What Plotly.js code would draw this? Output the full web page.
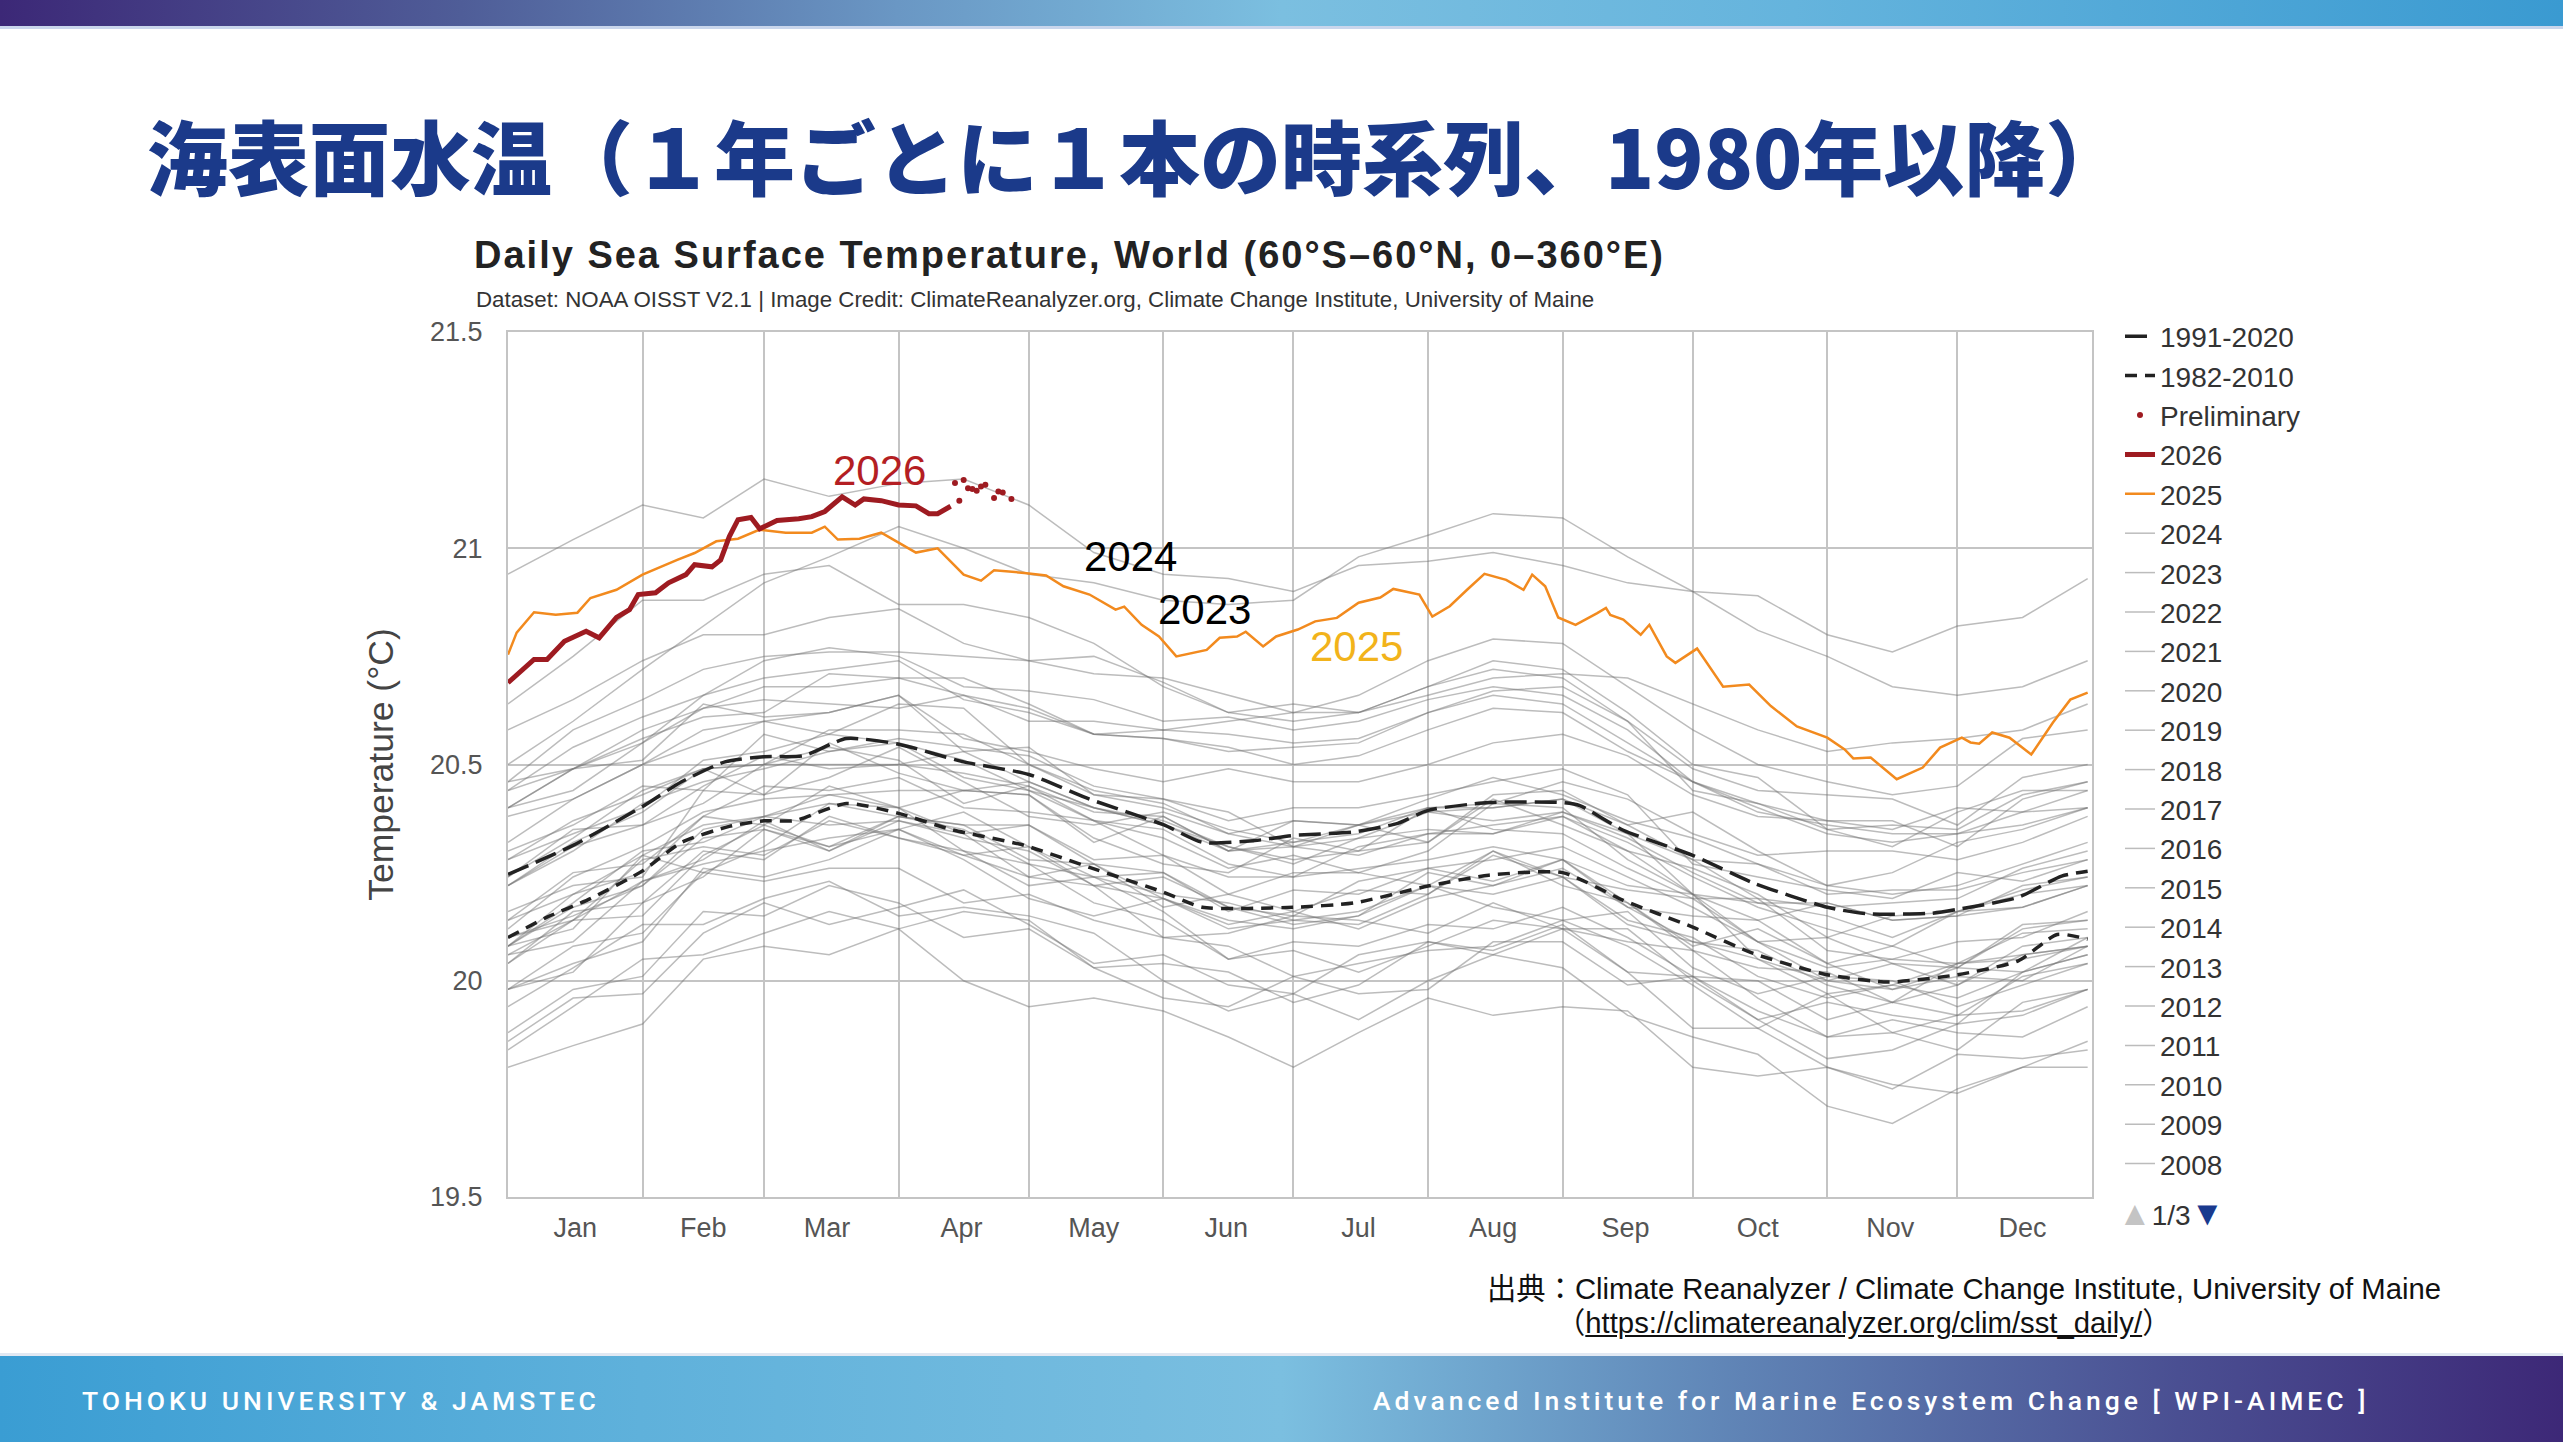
<!DOCTYPE html>
<html>
<head>
<meta charset="utf-8">
<script src="https://cdn.plot.ly/plotly-3.0.1.min.js"></script>
<style>
html,body{margin:0;padding:0;width:2563px;height:1442px;overflow:hidden;background:#fff;}
#chart{position:absolute;left:0;top:0;width:2563px;height:1442px;}
#topbar{position:absolute;left:0;top:0;width:2563px;height:26px;background:linear-gradient(90deg,#3c2877 0%,#4f5d98 18%,#6a97c4 35%,#7bbfe0 50%,#65b4dd 70%,#3a9ad1 100%);border-bottom:3px solid #c9d6ec;z-index:5;}
#jtitle{position:absolute;left:147px;top:109px;font-family:'Noto Sans CJK JP',sans-serif;font-weight:900;font-size:81px;line-height:90px;color:#1b3a8a;white-space:nowrap;z-index:5;}
.src{position:absolute;font-family:'Liberation Sans','Noto Sans CJK JP',sans-serif;font-size:29.3px;line-height:34px;color:#111;white-space:nowrap;z-index:5;}
#footer{position:absolute;left:0;top:1353px;width:2563px;height:89px;background:linear-gradient(90deg,#3a9dd3 0%,#5fb1db 25%,#7bbfe0 50%,#5f83b5 68%,#4a4f92 85%,#3d2877 100%);border-top:3px solid #e1e8f2;z-index:5;}
.ft{position:absolute;top:30px;font-family:Roboto,'DejaVu Sans',sans-serif;font-weight:500;font-size:26.5px;line-height:30px;letter-spacing:4px;color:#fff;white-space:nowrap;}
.gtitle{letter-spacing:2px;}
</style>
</head>
<body>
<div id="topbar"></div>
<div id="jtitle">海表面水温（１年ごとに１本の時系列、1980年以降）</div>
<div id="chart"></div>
<div class="src" style="left:1487px;top:1272px;">出典：Climate Reanalyzer / Climate Change Institute, University of Maine</div>
<div class="src" style="left:1556px;top:1306px;">（<u>https://climatereanalyzer.org/clim/sst_daily/</u>）</div>
<div id="footer">
  <span class="ft" style="left:82px;">TOHOKU UNIVERSITY &amp; JAMSTEC</span>
  <span class="ft" style="left:1373px;">Advanced Institute for Marine Ecosystem Change [ WPI-AIMEC ]</span>
</div>
<script>
// ---------- axis / tick data ----------
const monthStarts = [1,32,60,91,121,152,182,213,244,274,305,335,366];
const monthMid = [16.5,46,74.5,105.5,136,166.5,197,228,258.5,289,319.5,350];
const monthNames = ['Jan','Feb','Mar','Apr','May','Jun','Jul','Aug','Sep','Oct','Nov','Dec'];
const yTicks = [19.5,20,20.5,21,21.5];
const yTickText = ['19.5','20','20.5','21','21.5'];

// ---------- gray yearly lines (day of year, °C) ----------
const gridDays = [1,16,32,46,60,75,91,106,121,136,152,167,182,197,213,228,244,259,274,289,305,320,335,350,365];
const sst1982 = [19.88,19.98,20.01,20.16,20.15,20.22,20.18,20.10,20.12,20.03,20.04,20.02,19.95,19.99,20.09,20.06,20.12,20.12,20.00,19.91,19.95,19.92,19.90,20.02,20.06];
const sst1983 = [20.06,20.09,20.23,20.28,20.37,20.30,20.37,20.34,20.24,20.22,20.10,20.11,20.15,20.14,20.11,20.18,20.12,20.09,20.07,19.96,19.87,19.91,19.88,19.87,19.94];
const sst1984 = [19.94,20.03,20.13,20.13,20.19,20.23,20.15,20.17,20.15,20.11,20.00,19.93,19.97,19.91,20.00,20.06,20.03,19.92,19.87,19.83,19.71,19.67,19.75,19.80,19.80];
const sst1985 = [19.80,19.85,19.90,20.05,20.08,20.06,20.12,20.00,19.94,19.96,19.93,19.87,19.80,19.88,19.96,19.92,19.94,19.93,19.80,19.78,19.80,19.76,19.74,19.80,19.86];
const sst1986 = [19.86,19.96,19.97,20.11,20.18,20.13,20.17,20.21,20.13,20.04,20.06,19.99,19.97,20.06,20.09,20.07,20.13,20.02,20.01,20.00,19.91,19.95,19.92,20.01,20.04];
const sst1987 = [20.04,20.16,20.18,20.30,20.28,20.38,20.33,20.29,20.31,20.24,20.25,20.17,20.13,20.15,20.25,20.22,20.28,20.18,20.07,20.03,20.02,19.95,19.99,20.06,20.08];
const sst1988 = [20.08,20.20,20.29,20.36,20.38,20.41,20.40,20.30,20.27,20.18,20.14,20.05,20.07,20.02,20.08,20.14,20.12,20.02,19.89,19.89,19.80,19.75,19.83,19.82,19.84];
const sst1989 = [19.84,19.94,20.05,20.06,20.11,20.16,20.12,20.16,20.14,20.03,19.96,19.94,20.01,19.97,19.98,20.09,20.09,19.99,20.01,19.91,19.82,19.84,19.90,19.92,19.98];
const sst1990 = [19.98,20.08,20.11,20.25,20.23,20.26,20.26,20.18,20.20,20.14,20.10,20.08,20.01,20.04,20.07,20.08,20.14,20.08,19.99,19.89,19.97,19.88,19.84,19.95,19.98];
const sst1991 = [19.98,20.02,20.18,20.24,20.35,20.30,20.38,20.36,20.28,20.27,20.17,20.20,20.25,20.25,20.22,20.30,20.24,20.21,20.19,20.09,20.00,20.04,20.03,20.02,20.10];
const sst1992 = [20.10,20.14,20.28,20.31,20.29,20.37,20.33,20.30,20.22,20.24,20.16,20.05,20.09,20.08,20.13,20.12,20.17,20.10,20.01,19.93,19.87,19.88,19.92,19.93,19.98];
const sst1993 = [19.98,20.04,20.09,20.26,20.24,20.28,20.35,20.28,20.19,20.15,20.19,20.14,20.12,20.15,20.22,20.17,20.14,20.16,20.03,19.97,20.01,20.00,19.94,19.99,20.04];
const sst1994 = [20.04,20.14,20.15,20.29,20.36,20.31,20.35,20.39,20.31,20.22,20.24,20.17,20.15,20.23,20.26,20.23,20.28,20.17,20.15,20.14,20.04,20.08,20.03,20.12,20.14];
const sst1995 = [20.14,20.25,20.27,20.38,20.36,20.45,20.40,20.34,20.36,20.28,20.29,20.20,20.16,20.21,20.20,20.29,20.24,20.14,20.10,20.01,19.96,19.99,19.96,20.02,20.06];
const sst1996 = [20.06,20.14,20.23,20.27,20.30,20.33,20.35,20.29,20.24,20.27,20.19,20.13,20.16,20.12,20.19,20.22,20.26,20.17,20.09,20.07,19.99,19.95,20.04,20.05,20.08];
const sst1997 = [20.08,20.18,20.30,20.32,20.38,20.43,20.40,20.44,20.43,20.33,20.27,20.25,20.33,20.30,20.32,20.43,20.44,20.36,20.39,20.30,20.22,20.25,20.32,20.35,20.40];
const sst1998 = [20.40,20.49,20.51,20.64,20.61,20.62,20.66,20.53,20.54,20.43,20.42,20.39,20.31,20.33,20.35,20.34,20.38,20.30,20.20,20.09,20.10,20.04,19.99,20.08,20.10];
const sst1999 = [20.10,20.15,20.22,20.35,20.38,20.36,20.37,20.33,20.30,20.22,20.19,20.12,20.14,20.16,20.22,20.20,20.24,20.13,20.09,20.05,19.97,19.99,20.04,20.06,20.08];
const sst2000 = [20.08,20.17,20.22,20.33,20.35,20.31,20.38,20.35,20.27,20.24,20.20,20.18,20.14,20.13,20.20,20.30,20.22,20.18,20.08,20.12,20.04,19.98,20.03,20.13,20.14];
const sst2001 = [20.14,20.20,20.25,20.38,20.45,20.44,20.47,20.40,20.39,20.37,20.35,20.27,20.24,20.31,20.34,20.34,20.39,20.34,20.20,20.14,20.18,20.14,20.15,20.17,20.22];
const sst2002 = [20.22,20.31,20.36,20.45,20.52,20.49,20.50,20.48,20.45,20.39,20.38,20.30,20.32,20.36,20.39,20.40,20.42,20.34,20.28,20.27,20.20,20.21,20.21,20.25,20.28];
const sst2003 = [20.28,20.34,20.40,20.51,20.53,20.57,20.55,20.47,20.44,20.40,20.36,20.31,20.27,20.33,20.39,20.37,20.39,20.33,20.25,20.18,20.18,20.14,20.15,20.22,20.24];
const sst2004 = [20.24,20.35,20.36,20.41,20.50,20.54,20.51,20.41,20.45,20.37,20.33,20.26,20.29,20.25,20.30,20.41,20.40,20.28,20.20,20.18,20.15,20.10,20.16,20.21,20.24];
const sst2005 = [20.24,20.33,20.44,20.49,20.50,20.50,20.50,20.53,20.46,20.40,20.36,20.30,20.37,20.36,20.32,20.42,20.36,20.30,20.26,20.20,20.10,20.15,20.16,20.17,20.22];
const sst2006 = [20.22,20.32,20.39,20.49,20.43,20.55,20.48,20.44,20.46,20.40,20.37,20.31,20.28,20.30,20.40,20.40,20.42,20.36,20.28,20.19,20.17,20.18,20.19,20.26,20.30];
const sst2007 = [20.30,20.36,20.45,20.44,20.57,20.53,20.55,20.51,20.44,20.37,20.29,20.24,20.24,20.26,20.28,20.31,20.28,20.22,20.20,20.05,20.00,19.98,20.01,20.00,20.08];
const sst2008 = [20.08,20.12,20.29,20.25,20.31,20.41,20.38,20.36,20.36,20.27,20.25,20.16,20.21,20.20,20.26,20.28,20.31,20.24,20.17,20.09,20.03,20.05,20.09,20.10,20.16];
const sst2009 = [20.16,20.22,20.24,20.44,20.43,20.47,20.54,20.46,20.38,20.36,20.39,20.34,20.31,20.36,20.40,20.41,20.46,20.42,20.34,20.29,20.30,20.30,20.28,20.32,20.38];
const sst2010 = [20.38,20.42,20.50,20.58,20.60,20.57,20.64,20.63,20.50,20.43,20.40,20.35,20.32,20.34,20.40,20.35,20.34,20.26,20.19,20.19,20.07,20.05,20.04,20.11,20.12];
const sst2011 = [20.12,20.24,20.31,20.39,20.42,20.43,20.44,20.44,20.43,20.32,20.38,20.30,20.31,20.29,20.34,20.36,20.38,20.32,20.24,20.17,20.12,20.08,20.16,20.20,20.22];
const sst2012 = [20.22,20.30,20.41,20.46,20.49,20.53,20.56,20.54,20.52,20.45,20.42,20.37,20.40,20.40,20.43,20.46,20.49,20.43,20.27,20.24,20.21,20.19,20.25,20.23,20.28];
const sst2013 = [20.28,20.37,20.43,20.49,20.50,20.58,20.58,20.57,20.50,20.44,20.41,20.34,20.37,20.36,20.42,20.47,20.43,20.37,20.33,20.27,20.22,20.20,20.22,20.27,20.32];
const sst2014 = [20.32,20.42,20.50,20.55,20.60,20.62,20.66,20.56,20.53,20.49,20.46,20.49,20.46,20.46,20.50,20.55,20.57,20.52,20.43,20.38,20.37,20.37,20.31,20.42,20.46];
const sst2015 = [20.46,20.49,20.58,20.63,20.68,20.68,20.70,20.66,20.60,20.60,20.58,20.60,20.62,20.62,20.66,20.70,20.71,20.70,20.64,20.58,20.53,20.55,20.56,20.58,20.64];
const sst2016 = [20.64,20.75,20.88,20.88,20.94,20.96,20.87,20.87,20.84,20.78,20.68,20.62,20.64,20.62,20.68,20.74,20.72,20.62,20.50,20.47,20.35,20.31,20.39,20.44,20.44];
const sst2017 = [20.44,20.49,20.55,20.66,20.74,20.77,20.75,20.68,20.67,20.65,20.60,20.61,20.58,20.60,20.65,20.68,20.66,20.58,20.46,20.39,20.36,20.34,20.34,20.36,20.40];
const sst2018 = [20.40,20.44,20.55,20.63,20.65,20.64,20.63,20.66,20.63,20.57,20.56,20.54,20.50,20.52,20.58,20.63,20.62,20.53,20.46,20.41,20.35,20.36,20.35,20.43,20.46];
const sst2019 = [20.46,20.58,20.65,20.72,20.75,20.76,20.76,20.75,20.74,20.71,20.70,20.66,20.62,20.66,20.74,20.79,20.78,20.68,20.58,20.50,20.46,20.43,20.45,20.56,20.58];
const sst2020 = [20.58,20.65,20.74,20.80,20.80,20.84,20.86,20.78,20.74,20.75,20.69,20.62,20.60,20.62,20.68,20.72,20.70,20.60,20.44,20.41,20.37,20.35,20.40,20.39,20.40];
const sst2021 = [20.40,20.49,20.56,20.61,20.62,20.71,20.70,20.70,20.64,20.57,20.56,20.53,20.54,20.55,20.62,20.66,20.64,20.55,20.46,20.40,20.34,20.32,20.34,20.39,20.44];
const sst2022 = [20.44,20.54,20.61,20.66,20.70,20.72,20.74,20.65,20.62,20.57,20.58,20.57,20.55,20.56,20.62,20.67,20.68,20.60,20.49,20.44,20.43,20.42,20.36,20.47,20.50];
const sst2023 = [20.50,20.60,20.72,20.82,20.92,20.98,21.05,21.00,20.94,20.92,20.88,20.87,20.88,20.98,21.03,21.08,21.07,20.98,20.90,20.89,20.80,20.76,20.82,20.84,20.93];
const sst2024 = [20.94,21.02,21.10,21.07,21.16,21.12,21.15,21.16,21.10,20.99,20.94,20.93,20.90,20.96,20.97,20.99,20.96,20.92,20.90,20.81,20.75,20.68,20.66,20.68,20.74];

// ---------- highlighted years ----------
const days2025 = [1,3,7,12,17,20,26,32,40,44,49,54,59,65,71,74,77,82,87,95,100,106,110,113,120,125,129,135,141,143,147,151,155,159,162,165,169,171,175,178,183,187,192,197,202,205,211,214,218,222,226,231,235,237,240,243,247,252,254,255,258,262,264,268,270,275,281,287,292,298,305,309,311,315,321,327,331,336,338,340,343,347,352,357,361,365];
const sst2025 = [20.754,20.805,20.852,20.846,20.851,20.885,20.904,20.939,20.973,20.989,21.016,21.022,21.043,21.036,21.036,21.050,21.020,21.022,21.036,20.990,21.000,20.939,20.925,20.949,20.943,20.937,20.912,20.893,20.858,20.865,20.823,20.796,20.750,20.758,20.765,20.793,20.796,20.807,20.773,20.796,20.812,20.831,20.839,20.874,20.886,20.906,20.893,20.842,20.866,20.904,20.941,20.927,20.904,20.939,20.912,20.840,20.823,20.850,20.862,20.846,20.835,20.800,20.823,20.750,20.735,20.768,20.680,20.685,20.635,20.588,20.562,20.535,20.514,20.516,20.466,20.493,20.539,20.562,20.551,20.548,20.574,20.562,20.523,20.597,20.650,20.666];
const days2026 = [1,4,7,10,14,19,22,26,29,31,35,38,42,44,48,50,52,54,57,59,63,68,71,74,78,81,83,87,91,95,98,100,102,103];
const sst2026 = [20.689,20.716,20.743,20.743,20.785,20.808,20.793,20.840,20.858,20.893,20.897,20.920,20.939,20.962,20.957,20.973,21.027,21.066,21.071,21.045,21.064,21.068,21.073,21.085,21.119,21.100,21.114,21.110,21.100,21.098,21.080,21.080,21.090,21.097];
const daysPrelim = [104,105,106,107,108,109,110,111,113,114,115,117];
const sstPrelim = [21.151,21.110,21.158,21.139,21.137,21.133,21.143,21.147,21.116,21.131,21.129,21.114];

// ---------- climatologies ----------
const clim9120Days = [1,16,32,41,51,60,69,79,91,106,121,135,152,161,173,182,196,206,213,227,244,248,258,274,288,305,314,329,335,349,359,365];
const clim9120 = [20.246,20.313,20.403,20.46,20.506,20.518,20.52,20.56,20.547,20.506,20.477,20.42,20.361,20.32,20.324,20.336,20.344,20.364,20.394,20.412,20.412,20.405,20.348,20.29,20.226,20.17,20.155,20.156,20.165,20.193,20.242,20.253];
const clim8210Days = [1,10,20,32,41,52,60,67,79,91,103,120,135,152,161,182,196,213,227,244,258,274,288,305,319,335,349,358,365];
const clim8210 = [20.10,20.147,20.19,20.254,20.32,20.357,20.37,20.37,20.41,20.387,20.35,20.313,20.262,20.205,20.17,20.17,20.18,20.219,20.244,20.25,20.186,20.124,20.063,20.014,19.997,20.014,20.046,20.107,20.096];

const grayYears = [
  [1982,sst1982],[1983,sst1983],[1984,sst1984],[1985,sst1985],[1986,sst1986],[1987,sst1987],[1988,sst1988],
  [1989,sst1989],[1990,sst1990],[1991,sst1991],[1992,sst1992],[1993,sst1993],[1994,sst1994],[1995,sst1995],
  [1996,sst1996],[1997,sst1997],[1998,sst1998],[1999,sst1999],[2000,sst2000],[2001,sst2001],[2002,sst2002],
  [2003,sst2003],[2004,sst2004],[2005,sst2005],[2006,sst2006],[2007,sst2007],[2008,sst2008],[2009,sst2009],
  [2010,sst2010],[2011,sst2011],[2012,sst2012],[2013,sst2013],[2014,sst2014],[2015,sst2015],[2016,sst2016],
  [2017,sst2017],[2018,sst2018],[2019,sst2019],[2020,sst2020],[2021,sst2021],[2022,sst2022],[2023,sst2023],
  [2024,sst2024]
];

const traces = [];
grayYears.forEach(function(p){
  traces.push({
    x: gridDays, y: p[1], type: 'scatter', mode: 'lines', name: String(p[0]),
    line: {color: 'rgba(115,115,115,0.48)', width: 1.5},
    showlegend: p[0] >= 2008, legendrank: 1000 + (2024 - p[0]), hoverinfo: 'skip'
  });
});
traces.push({x: clim8210Days, y: clim8210, type: 'scatter', mode: 'lines', name: '1982-2010',
  line: {color: '#222', width: 3.5, dash: '12px,8px', shape: 'spline', smoothing: 0.6}, legendrank: 2});
traces.push({x: clim9120Days, y: clim9120, type: 'scatter', mode: 'lines', name: '1991-2020',
  line: {color: '#222', width: 3.5, dash: '22px,8px', shape: 'spline', smoothing: 0.6}, legendrank: 1});
traces.push({x: days2025, y: sst2025, type: 'scatter', mode: 'lines', name: '2025',
  line: {color: '#f28a1e', width: 2.5}, legendrank: 5});
traces.push({x: days2026, y: sst2026, type: 'scatter', mode: 'lines', name: '2026',
  line: {color: '#9e1b21', width: 5}, legendrank: 4});
traces.push({x: daysPrelim, y: sstPrelim, type: 'scatter', mode: 'markers', name: 'Preliminary',
  marker: {color: '#9e1b21', size: 6}, legendrank: 3});

const FONT = 'Liberation Sans, Arial, sans-serif';
const GRID = '#c4c4c4';
const layout = {
  width: 2563, height: 1442,
  margin: {l: 508, r: 471, t: 332, b: 245, pad: 0},
  paper_bgcolor: 'rgba(0,0,0,0)', plot_bgcolor: '#fff',
  font: {family: FONT, color: '#444'},
  title: {
    text: 'Daily Sea Surface Temperature, World (60°S–60°N, 0–360°E)',
    font: {family: FONT, size: 38, color: '#222', weight: 'bold'},
    xref: 'container', yref: 'container', x: 474/2563, xanchor: 'left', y: 1 - 255/1442, yanchor: 'middle'
  },
  xaxis: {
    range: [1, 366], tickmode: 'array', tickvals: monthMid, ticktext: monthNames,
    showgrid: false, zeroline: false, showline: true, mirror: true, linecolor: GRID, linewidth: 2,
    ticks: '', tickfont: {size: 27, color: '#555'}, ticklabelstandoff: 6,
    minor: {tickmode: 'array', tickvals: monthStarts, showgrid: true, gridcolor: GRID, gridwidth: 2, ticks: ''}
  },
  yaxis: {
    range: [19.5, 21.5], tickmode: 'array', tickvals: yTicks, ticktext: yTickText,
    showgrid: true, gridcolor: GRID, gridwidth: 2, zeroline: false,
    showline: true, mirror: true, linecolor: GRID, linewidth: 2,
    ticks: '', tickfont: {size: 27, color: '#555'}, ticklabelstandoff: 18,
    title: {text: 'Temperature (°C)', font: {size: 35.5, color: '#444'}, standoff: 26}
  },
  showlegend: true,
  legend: {
    x: (2120 - 508) / 1584, xanchor: 'left', y: (1197 - 311.5) / 865, yanchor: 'top',
    font: {family: FONT, size: 28, color: '#333'}, bgcolor: 'rgba(0,0,0,0)', borderwidth: 0,
    traceorder: 'normal', itemwidth: 30, maxheight: 1100
  },
  annotations: [
    {xref: 'paper', yref: 'paper', x: (474 - 508) / 1584, y: (1197 - 299) / 865, xanchor: 'left', yanchor: 'middle',
     text: 'Dataset: NOAA OISST V2.1 | Image Credit: ClimateReanalyzer.org, Climate Change Institute, University of Maine',
     showarrow: false, font: {family: FONT, size: 22.3, color: '#333'}},
    {x: 86.5, y: 21.179, text: '2026', showarrow: false, font: {family: FONT, size: 42, color: '#b41e23'}},
    {x: 144.5, y: 20.98, text: '2024', showarrow: false, font: {family: FONT, size: 42, color: '#000'}},
    {x: 161.5, y: 20.859, text: '2023', showarrow: false, font: {family: FONT, size: 42, color: '#000'}},
    {x: 196.6, y: 20.772, text: '2025', showarrow: false, font: {family: FONT, size: 42, color: '#f2b31b'}},
    {xref: 'paper', yref: 'paper', x: (2116 - 508) / 1584, y: (1197 - 1213) / 865, xanchor: 'left', yanchor: 'middle',
     text: '<span style="color:#c4c4c4;font-size:34px">▲</span>1/3<span style="color:#1a3a8e;font-size:34px">▼</span>',
     showarrow: false, font: {family: FONT, size: 28, color: '#333'}}
  ]
};

Plotly.newPlot('chart', traces, layout, {displayModeBar: false, staticPlot: true});
</script>
</body>
</html>
